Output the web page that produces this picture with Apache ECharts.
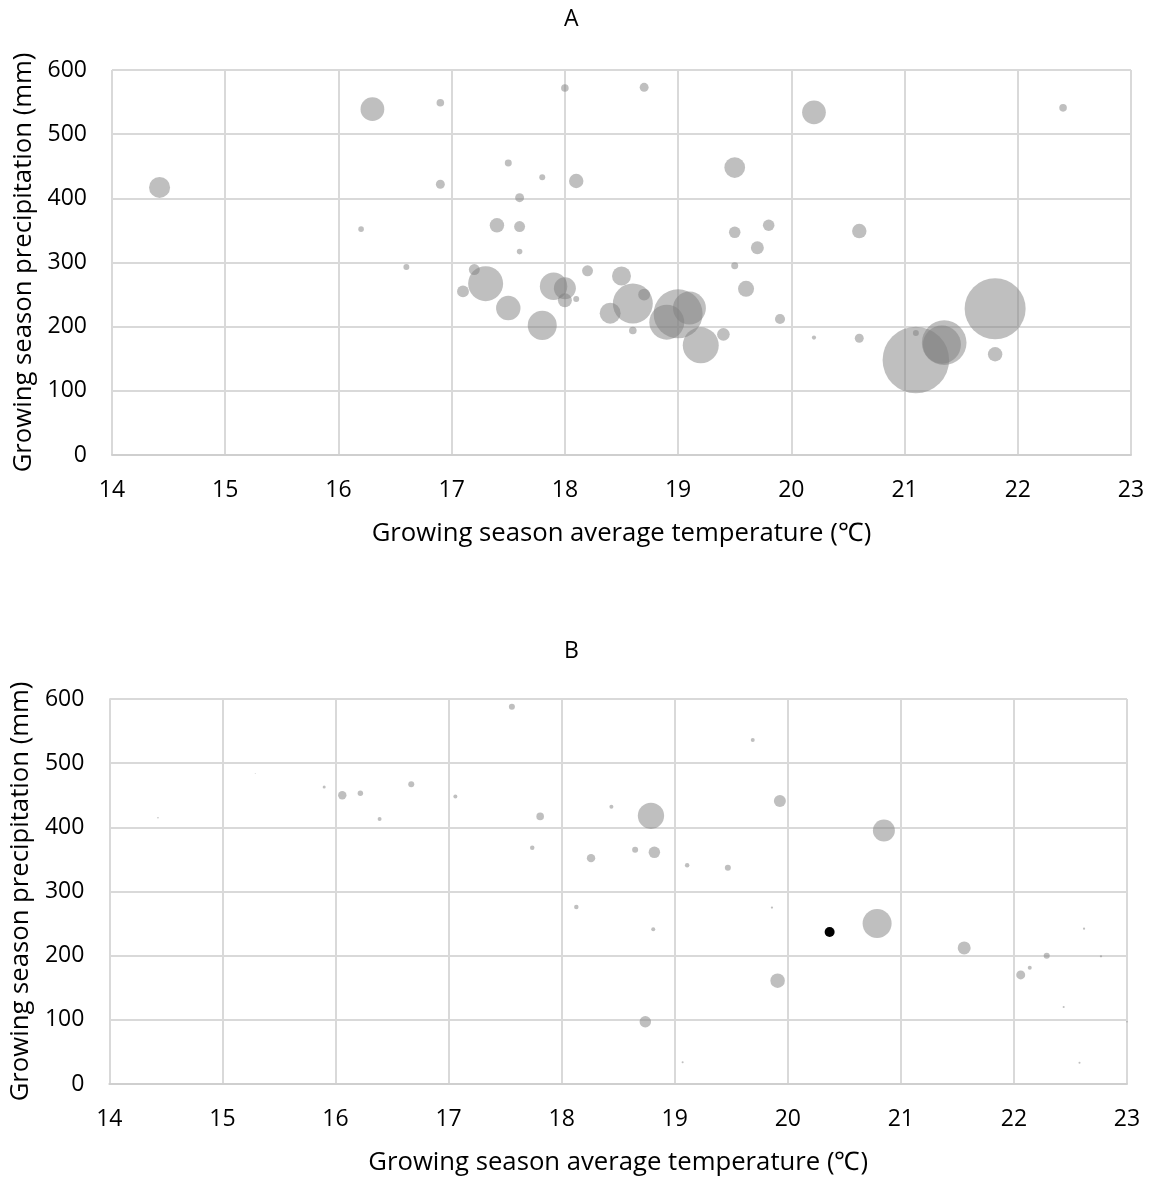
<!DOCTYPE html>
<html>
<head>
<meta charset="utf-8">
<script src="https://cdn.jsdelivr.net/npm/echarts@6/dist/echarts.min.js"></script>
<style>
html,body{margin:0;padding:0;background:#fff;}
#chart{width:1153px;height:1177px;}
</style>
</head>
<body>
<div id="chart"></div>
<script>
// ---------- Data ----------
var xTicks = [14, 15, 16, 17, 18, 19, 20, 21, 22, 23];
var yTicks = [0, 100, 200, 300, 400, 500, 600];

// Panel A
var tempA = [14.42, 16.3, 16.9, 16.9, 16.2, 16.6, 17.5, 17.8, 18.0, 18.1, 17.6, 17.4, 17.6, 17.6, 17.2, 17.1, 17.3, 17.5, 17.8, 17.9, 18.0, 18.0, 18.1, 18.2, 18.7, 20.2, 22.4, 19.5, 19.5, 19.8, 19.7, 20.6, 19.5, 18.5, 19.6, 18.6, 18.7, 18.4, 18.6, 18.9, 19.1, 19.0, 19.2, 19.4, 19.9, 20.2, 20.6, 21.1, 21.1, 21.35, 21.33, 21.8, 21.8];
var precipA = [417, 539, 549, 422, 352, 293, 455, 433, 572, 427, 401, 358, 356, 317, 289, 255, 267, 229, 202, 263, 260, 241, 243, 287, 573, 534, 541, 448, 347, 358, 323, 349, 295, 279, 259, 236, 250, 221, 194, 207, 229, 220, 171, 188, 212, 183, 182, 190, 148, 175, 172, 228, 157];
var sizeA = [100, 127, 13, 18, 7, 8, 11, 8, 13, 47, 18, 47, 27, 7, 27, 32, 276, 135, 190, 170, 109, 44, 8, 27, 18, 127, 13, 97, 30, 30, 38, 47, 11, 81, 58, 361, 32, 99, 13, 276, 245, 541, 292, 36, 23, 4, 18, 8, 1000, 450, 326, 839, 47];

// Panel B
var tempB = [14.43, 15.29, 15.90, 16.06, 16.22, 16.39, 16.67, 17.06, 17.56, 17.81, 17.74, 18.26, 18.13, 19.69, 18.44, 18.79, 19.93, 20.85, 18.65, 18.82, 19.11, 19.47, 19.86, 18.81, 20.79, 21.56, 22.29, 22.14, 22.06, 22.62, 22.77, 22.44, 19.91, 18.74, 19.07, 22.58, 23.0];
var precipB = [415, 484, 463, 450, 453, 413, 467, 448, 588, 417, 368, 352, 276, 536, 432, 418, 441, 395, 365, 361, 341, 337, 275, 241, 250, 212, 200, 181, 170, 242, 199, 120, 161, 97, 34, 33, 97];
var sizeB = [3, 1, 11, 84, 35, 19, 43, 19, 43, 69, 24, 84, 24, 19, 19, 823, 171, 576, 43, 157, 24, 43, 6, 19, 1000, 201, 43, 19, 96, 6, 6, 5, 250, 157, 5, 5, 3];
// highlighted (black) point in panel B
var tempBHighlight = [20.37];
var precipBHighlight = [237];
var sizeBHighlight = [119];

// ---------- Build ----------
function zip(x, y, s) {
  var out = [];
  for (var i = 0; i < x.length; i++) out.push([x[i], y[i], s[i]]);
  return out;
}
var FONT = 'Open Sans';
var gridColor = '#d9d9d9';
var bubbleColor = 'rgba(127,127,127,0.5)';
var kA = 66.6 / Math.sqrt(1000);
var kB = 29 / Math.sqrt(1000);

function xAxisCfg(gridIndex) {
  return {
    gridIndex: gridIndex, type: 'value',
    min: xTicks[0], max: xTicks[xTicks.length - 1], interval: 1,
    name: 'Growing season average temperature (\u2103)',
    nameLocation: 'middle', nameGap: 66,
    nameTextStyle: { fontFamily: FONT, fontSize: 25.7, color: '#000' },
    axisLine: { show: true, lineStyle: { color: '#cfcfcf', width: 2 } },
    axisTick: { show: false },
    axisLabel: { fontFamily: FONT, fontSize: 23, color: '#000', margin: 24 },
    splitLine: { show: true, lineStyle: { color: gridColor, width: 2 } }
  };
}
function yAxisCfg(gridIndex) {
  return {
    gridIndex: gridIndex, type: 'value',
    min: yTicks[0], max: yTicks[yTicks.length - 1], interval: 100,
    name: 'Growing season precipitation (mm)',
    nameLocation: 'middle', nameGap: 72,
    nameTextStyle: { fontFamily: FONT, fontSize: 25.7, color: '#000' },
    axisLine: { show: false },
    axisTick: { show: false },
    axisLabel: { fontFamily: FONT, fontSize: 23, color: '#000', margin: 25 },
    splitLine: { show: true, lineStyle: { color: gridColor, width: 2 } }
  };
}

var chart = echarts.init(document.getElementById('chart'), null, { renderer: 'canvas' });
chart.setOption({
  animation: false,
  backgroundColor: '#fff',
  title: [
    { text: 'A', left: 559, top: 3, textStyle: { fontFamily: FONT, fontSize: 23, fontWeight: 'normal', color: '#000' } },
    { text: 'B', left: 559, top: 635, textStyle: { fontFamily: FONT, fontSize: 23, fontWeight: 'normal', color: '#000' } }
  ],
  grid: [
    { left: 112, top: 70, width: 1019, height: 385 },
    { left: 109, top: 699, width: 1018, height: 385 }
  ],
  xAxis: [xAxisCfg(0), xAxisCfg(1)],
  yAxis: [yAxisCfg(0), yAxisCfg(1)],
  series: [
    {
      type: 'scatter', xAxisIndex: 0, yAxisIndex: 0,
      data: zip(tempA, precipA, sizeA),
      symbolSize: function (v) { return Math.sqrt(v[2]) * kA; },
      itemStyle: { color: bubbleColor, opacity: 1 }
    },
    {
      type: 'scatter', xAxisIndex: 1, yAxisIndex: 1,
      data: zip(tempB, precipB, sizeB),
      symbolSize: function (v) { return Math.sqrt(v[2]) * kB; },
      itemStyle: { color: bubbleColor, opacity: 1 }
    },
    {
      type: 'scatter', xAxisIndex: 1, yAxisIndex: 1,
      data: zip(tempBHighlight, precipBHighlight, sizeBHighlight),
      symbolSize: function (v) { return Math.sqrt(v[2]) * kB; },
      itemStyle: { color: '#000', opacity: 1 }
    }
  ]
});
</script>
</body>
</html>
